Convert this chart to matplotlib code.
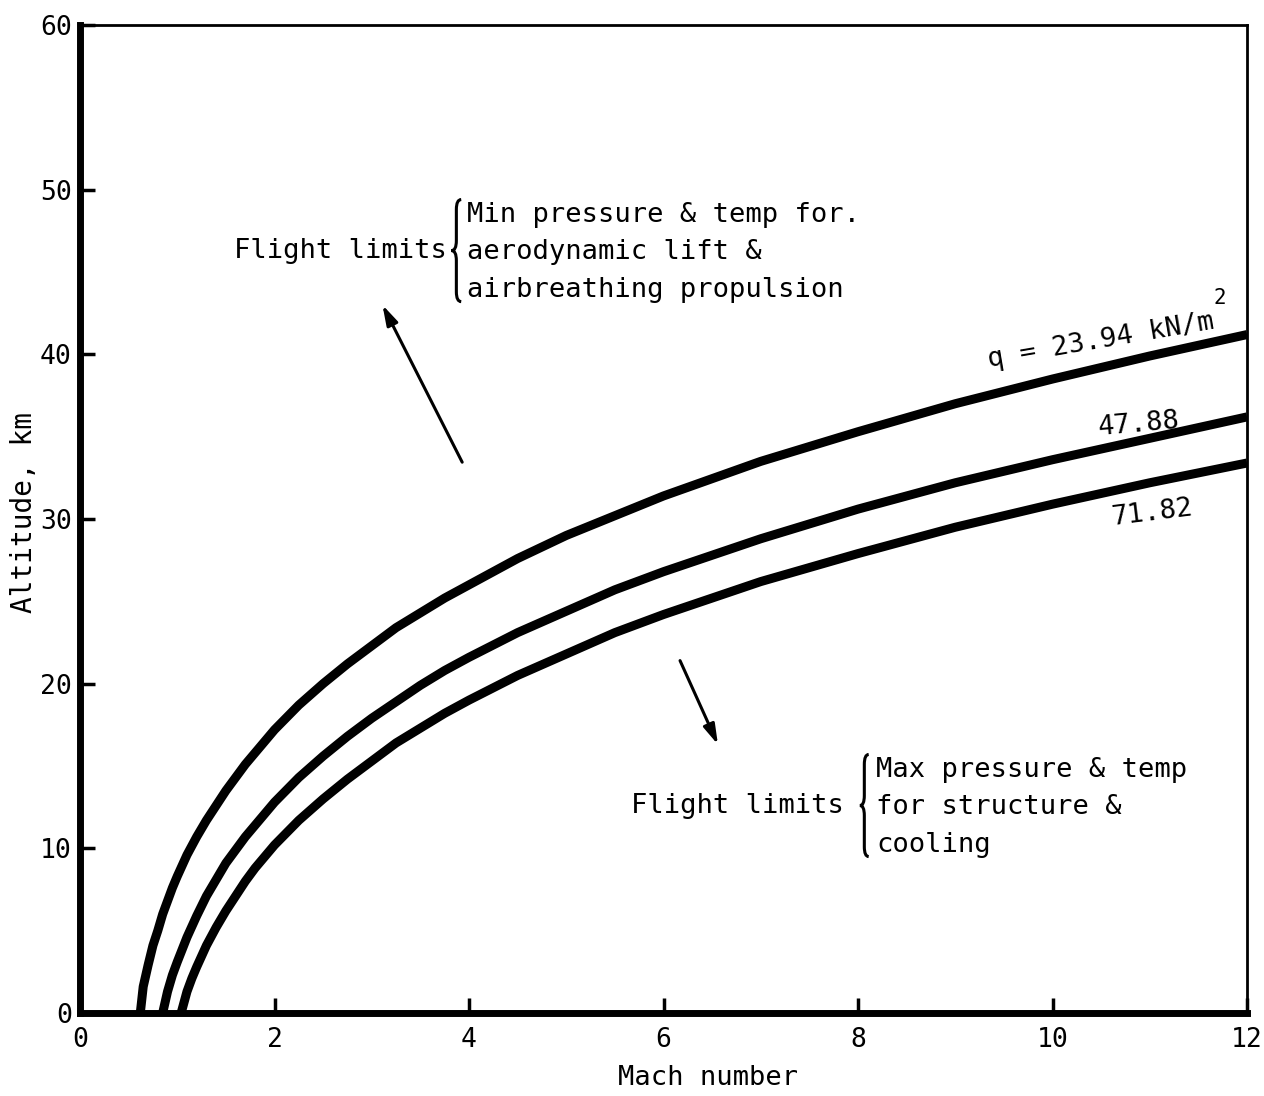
import matplotlib
matplotlib.use("Agg")
import matplotlib.pyplot as plt
from matplotlib.path import Path
from matplotlib.patches import PathPatch

# ---- data ----
mach_q1 = [0.62, 0.65, 0.7, 0.75, 0.8, 0.85, 0.9, 0.95, 1.0, 1.1, 1.2, 1.3, 1.4, 1.5,
           1.6, 1.7, 1.8, 1.9, 2.0, 2.25, 2.5, 2.75, 3.0, 3.25, 3.5, 3.75, 4.0, 4.5,
           5.0, 5.5, 6.0, 7.0, 8.0, 9.0, 10.0, 11.0, 12.0]
alt_q1 = [0.0, 1.6, 2.9, 4.1, 5.0, 6.0, 6.8, 7.6, 8.3, 9.6, 10.7, 11.7, 12.6, 13.5,
          14.3, 15.1, 15.8, 16.5, 17.2, 18.7, 20.0, 21.2, 22.3, 23.4, 24.3, 25.2, 26.0, 27.6,
          29.0, 30.2, 31.4, 33.5, 35.3, 37.0, 38.5, 39.9, 41.2]

mach_q2 = [0.85, 0.9, 0.95, 1.0, 1.1, 1.2, 1.3, 1.4, 1.5, 1.6, 1.7, 1.8, 1.9, 2.0,
           2.25, 2.5, 2.75, 3.0, 3.25, 3.5, 3.75, 4.0, 4.5, 5.0, 5.5, 6.0, 7.0, 8.0,
           9.0, 10.0, 11.0, 12.0]
alt_q2 = [0.0, 1.3, 2.3, 3.1, 4.6, 5.9, 7.1, 8.1, 9.1, 9.9, 10.7, 11.4, 12.1, 12.8,
          14.3, 15.6, 16.8, 17.9, 18.9, 19.9, 20.8, 21.6, 23.1, 24.4, 25.7, 26.8, 28.8, 30.6,
          32.2, 33.6, 34.9, 36.2]

mach_q3 = [1.04, 1.1, 1.15, 1.2, 1.3, 1.4, 1.5, 1.6, 1.7, 1.8, 1.9, 2.0, 2.1, 2.25,
           2.5, 2.75, 3.0, 3.25, 3.5, 3.75, 4.0, 4.5, 5.0, 5.5, 6.0, 7.0, 8.0, 9.0,
           10.0, 11.0, 12.0]
alt_q3 = [0.0, 1.3, 2.1, 2.8, 4.1, 5.2, 6.2, 7.1, 8.0, 8.8, 9.5, 10.2, 10.8, 11.7,
          13.0, 14.2, 15.3, 16.4, 17.3, 18.2, 19.0, 20.5, 21.8, 23.1, 24.2, 26.2, 27.9, 29.5,
          30.9, 32.2, 33.4]

q_labels = ["q = 23.94 kN/m", "47.88", "71.82"]
x_ticks = [0, 2, 4, 6, 8, 10, 12]
y_ticks = [0, 10, 20, 30, 40, 50, 60]

FONT = "DejaVu Sans Mono"
plt.rcParams["font.family"] = [FONT, "DejaVu Sans"]

fig = plt.figure(figsize=(12.64, 10.96), dpi=100)
ax = fig.add_axes([80 / 1264, 83 / 1096, 1167 / 1264, 988 / 1096])
ax.set_xlim(0, 12)
ax.set_ylim(0, 60)

for m, a in [(mach_q1, alt_q1), (mach_q2, alt_q2), (mach_q3, alt_q3)]:
    ax.plot(m, a, color="black", lw=6.5, solid_capstyle="butt",
            solid_joinstyle="round", clip_on=True)

# spines
ax.spines["left"].set_linewidth(5)
ax.spines["bottom"].set_linewidth(5)
ax.spines["top"].set_linewidth(2)
ax.spines["right"].set_linewidth(2)

ax.set_xticks(x_ticks)
ax.set_yticks(y_ticks)
ax.set_xticklabels([str(v) for v in x_ticks])
ax.set_yticklabels([str(v) for v in y_ticks])
ax.tick_params(axis="x", direction="in", length=11, width=2.5, pad=10, labelsize=19)
ax.tick_params(axis="y", direction="in", length=11, width=2.5, pad=6, labelsize=19)

ax.text(0.538, -0.066, "Mach number", transform=ax.transAxes, ha="center",
        va="center", fontsize=19.5)
ax.text(-0.048, 0.507, "Altitude, km", transform=ax.transAxes, ha="center",
        va="center", rotation=90, fontsize=20)

# curve labels
ax.text(10.50, 40.8, q_labels[0], rotation=9.7, ha="center", va="center", fontsize=19.5)
ax.text(11.72, 43.4, "2", ha="center", va="center", fontsize=15)
ax.text(10.89, 35.75, q_labels[1], rotation=5, ha="center", va="center", fontsize=19.5)
ax.text(11.02, 30.36, q_labels[2], rotation=7, ha="center", va="center", fontsize=19.5)


def brace(x0, xr, yt, yb):
    xm = (x0 + xr) / 2
    ymid = (yt + yb) / 2
    c = 0.6
    verts = [(xr, yt), (xm, yt), (xm, yt - c), (xm, ymid + c), (xm, ymid), (x0, ymid),
             (xm, ymid), (xm, ymid - c), (xm, yb + c), (xm, yb), (xr, yb)]
    codes = [Path.MOVETO, Path.CURVE3, Path.CURVE3, Path.LINETO, Path.CURVE3, Path.CURVE3,
             Path.CURVE3, Path.CURVE3, Path.LINETO, Path.CURVE3, Path.CURVE3]
    ax.add_patch(PathPatch(Path(verts, codes), fill=False, lw=2.2, color="black"))


# upper annotation
ax.text(3.77, 46.3, "Flight limits", ha="right", va="center", fontsize=19.5)
brace(3.82, 3.92, 49.4, 43.2)
for txt, y in zip(["Min pressure & temp for.", "aerodynamic lift &", "airbreathing propulsion"],
                  [48.45, 46.2, 43.9]):
    ax.text(3.98, y, txt, ha="left", va="center", fontsize=19.5)
ax.annotate("", xy=(3.11, 43.0), xytext=(3.93, 33.45),
            arrowprops=dict(arrowstyle="-|>,head_length=1.2,head_width=0.35",
                            lw=2.2, color="black", shrinkA=0, shrinkB=0))

# lower annotation
ax.text(7.85, 12.6, "Flight limits", ha="right", va="center", fontsize=19.5)
brace(8.02, 8.11, 15.7, 9.5)
for txt, y in zip(["Max pressure & temp", "for structure &", "cooling"],
                  [14.75, 12.5, 10.2]):
    ax.text(8.19, y, txt, ha="left", va="center", fontsize=19.5)
ax.annotate("", xy=(6.56, 16.3), xytext=(6.17, 21.4),
            arrowprops=dict(arrowstyle="-|>,head_length=1.2,head_width=0.35",
                            lw=2.2, color="black", shrinkA=0, shrinkB=0))

fig.savefig("out.png", dpi=100, facecolor="white")
